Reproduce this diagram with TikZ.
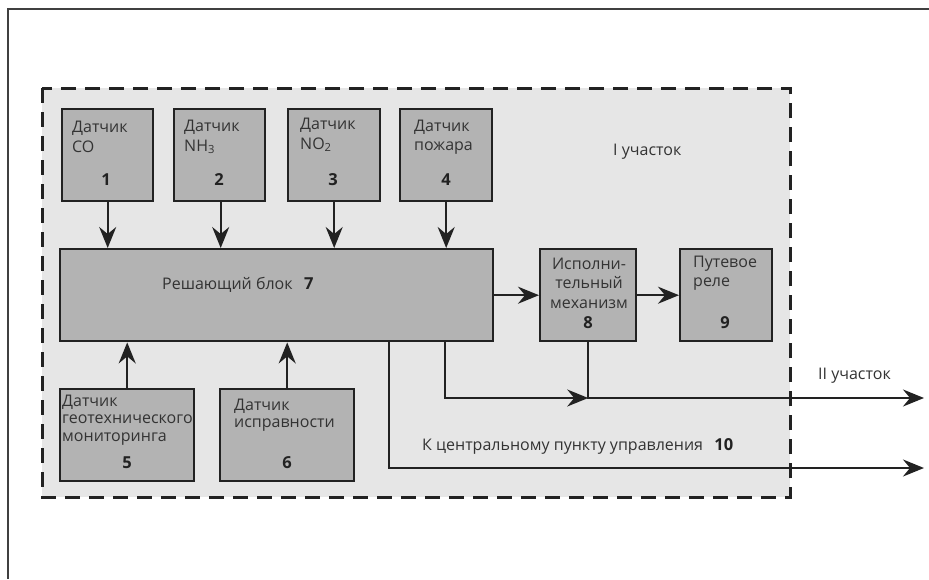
\documentclass[tikz,border=0pt]{standalone}
\usepackage{fontspec}
\setmainfont{Open Sans}
\usetikzlibrary{arrows.meta}
\definecolor{region}{HTML}{E6E6E6}
\definecolor{boxfill}{HTML}{B3B3B3}
\definecolor{ink}{HTML}{222222}
\definecolor{txt}{HTML}{333333}
\tikzset{
  blockbox/.style={draw=ink, line width=2.4pt, fill=boxfill, inner sep=0pt, anchor=north west},
  lbl/.style={text=txt, font=\fontsize{16}{19.5}\selectfont, inner sep=0pt, align=left, anchor=west},
  num/.style={text=ink, font=\fontsize{16.5}{18}\selectfont\bfseries, inner sep=0pt},
  conn/.style={draw=ink, line width=2pt},
  arr/.style={conn, -{Stealth[length=21pt, width=17pt, inset=7pt]}},
}
\begin{document}
\begin{tikzpicture}[x=1pt,y=-1pt]
\useasboundingbox (0,0) rectangle (929,579);
% outer frame
\draw[draw=black!75, line width=1.4pt] (929,9) -- (8,9) -- (8,579);
% region I
\draw[fill=region, draw=ink, line width=3pt, dash pattern=on 15pt off 9pt] (42,88) rectangle (790,497);
% sensors 1-4
\node[blockbox, minimum width=91pt, minimum height=92pt] (s1) at (61,108) {};
\node[blockbox, minimum width=91pt, minimum height=92pt] (s2) at (173,108) {};
\node[blockbox, minimum width=92pt, minimum height=92pt] (s3) at (287,108) {};
\node[blockbox, minimum width=92pt, minimum height=92pt] (s4) at (399,108) {};
% decision block
\node[blockbox, minimum width=433pt, minimum height=92pt] (blk) at (59,248) {};
% actuator, relay
\node[blockbox, minimum width=96pt, minimum height=92pt] (act) at (539,248) {};
\node[blockbox, minimum width=92pt, minimum height=92pt] (rel) at (679,248) {};
% sensors 5, 6
\node[blockbox, minimum width=134pt, minimum height=92pt] (s5) at (59,388) {};
\node[blockbox, minimum width=134pt, minimum height=92pt] (s6) at (219,388) {};
% texts
\node[lbl] (t1) at (72,137) {Датчик\\CO};
\node[num] (n1) at (106,180) {1};
\node[lbl] (t2) at (184,137) {Датчик\\NH\textsubscript{3}};
\node[num] (n2) at (219,180) {2};
\node[lbl] (t3) at (300,135) {Датчик\\NO\textsubscript{2}};
\node[num] (n3) at (333,180) {3};
\node[lbl] (t4) at (414,137) {Датчик\\пожара};
\node[num] (n4) at (446,180) {4};
\node[lbl] (t7) at (162,285) {Решающий блок};
\node[num, anchor=base west] (n7) at ([xshift=11pt]t7.base east) {7};
\node[lbl, align=center, anchor=center] (t8) at (589,283) {Исполни-\\тельный\\механизм};
\node[num] (n8) at (588,323) {8};
\node[lbl] (t9) at (693,273) {Путевое\\реле};
\node[num] (n9) at (725,323) {9};
\node[lbl, font=\fontsize{16}{17.5}\selectfont] (t5) at (62,420) {Датчик\\геотехнического\\мониторинга};
\node[num] (n5) at (127,463) {5};
\node[lbl, font=\fontsize{16}{17.5}\selectfont] (t6) at (234,415) {Датчик\\исправности};
\node[num] (n6) at (287,463) {6};
\node[lbl] (tI) at (613,152) {I участок};
\node[lbl] (tII) at (818,376) {II участок};
\node[lbl] (t10) at (422,447) {К центральному пункту управления};
\node[num, anchor=base west] (n10) at ([xshift=11pt]t10.base east) {10};
% connectors
\draw[arr] (s1.south) -- (s1.south |- blk.north);
\draw[arr] ([xshift=1pt]s2.south) -- ([xshift=1pt]s2.south |- blk.north);
\draw[arr] (s3.south) -- (s3.south |- blk.north);
\draw[arr] (s4.south) -- (s4.south |- blk.north);
\draw[arr] (s5.north) -- (s5.north |- blk.south);
\draw[arr] (s6.north) -- (s6.north |- blk.south);
\draw[arr] (blk.east) -- (act.west);
\draw[arr] (act.east) -- (rel.west);
\coordinate (b1) at (389,340);
\coordinate (b2) at (445,340);
\coordinate (o1) at (924,468);
\coordinate (o2) at (924,398);
\draw[arr] (b1) |- (o1);
\draw[arr] (b2) |- (act.south |- o2);
\draw[arr] (act.south) |- (o2);
\end{tikzpicture}
\end{document}
